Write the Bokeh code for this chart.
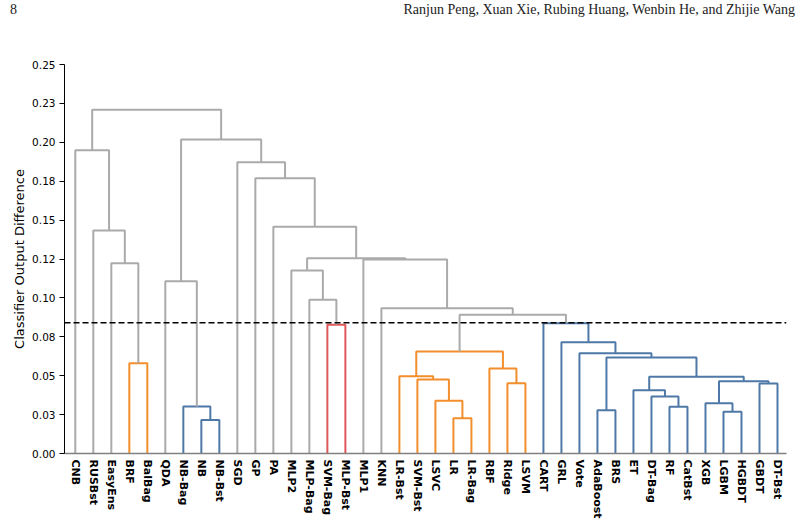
from bokeh.plotting import figure
from bokeh.models import FixedTicker, Span, Div
from bokeh.layouts import column
from bokeh.embed import file_html
from bokeh.resources import INLINE

# ---------------- data ----------------
leaf_labels = ["CNB", "RUSBst", "EasyEns", "BRF", "BalBag", "QDA", "NB-Bag", "NB", "NB-Bst",
               "SGD", "GP", "PA", "MLP2", "MLP-Bag", "SVM-Bag", "MLP-Bst", "MLP1", "KNN",
               "LR-Bst", "SVM-Bst", "LSVC", "LR", "LR-Bag", "RBF", "Ridge", "LSVM", "CART",
               "GRL", "Vote", "AdaBoost", "BRS", "ET", "DT-Bag", "RF", "CatBst", "XGB",
               "LGBM", "HGBDT", "GBDT", "DT-Bst"]

# linkage: child ids 0..39 are leaves (display order), 40+k is merge k
merge_left = [7, 6, 3, 5, 2, 1, 0,
              14, 13, 12,
              21, 20, 19, 18, 24, 23, 53,
              29, 33, 32, 31, 36, 35, 38, 62, 60, 57, 28, 27, 26,
              56, 17, 16, 49, 11, 10, 9, 43, 46]
merge_right = [8, 40, 4, 41, 42, 44, 45,
               15, 47, 48,
               22, 50, 51, 52, 25, 54, 55,
               30, 34, 58, 59, 37, 61, 39, 63, 64, 65, 66, 67, 68,
               69, 70, 71, 72, 73, 74, 75, 76, 77]
merge_height = [0.0216, 0.0302, 0.0580, 0.1107, 0.1223, 0.1433, 0.1949,
                0.0827, 0.0988, 0.1176,
                0.0227, 0.0339, 0.0476, 0.0497, 0.0452, 0.0546, 0.0656,
                0.0278, 0.0300, 0.0366, 0.0407, 0.0268, 0.0323, 0.0450, 0.0465, 0.0493,
                0.0617, 0.0645, 0.0715, 0.0837,
                0.0891, 0.0934, 0.1247, 0.1255, 0.1457, 0.1769, 0.1872, 0.2018, 0.2209]
color_threshold = 0.0840

y_ticks = [0.0, 0.025, 0.05, 0.075, 0.1, 0.125, 0.15, 0.175, 0.2, 0.225, 0.25]
y_tick_labels = ["0.00", "0.03", "0.05", "0.08", "0.10", "0.12", "0.15", "0.18", "0.20", "0.23", "0.25"]

cluster_palette = ["#f28e2b", "#4e79a7", "#e15759"]
above_color = "#aaaaaa"

header_left = "8"
header_right = "Ranjun Peng, Xuan Xie, Rubing Huang, Wenbin He, and Zhijie Wang"

# ---------------- dendrogram geometry ----------------
n = len(leaf_labels)
pos = {i: 5 + 10 * i for i in range(n)}
hgt = {i: 0.0 for i in range(n)}
for k, (a, b, h) in enumerate(zip(merge_left, merge_right, merge_height)):
    pos[n + k] = (pos[a] + pos[b]) / 2.0
    hgt[n + k] = h

link_color = {}
state = {"i": 0}


def assign(node, color):
    if node < n:
        return
    k = node - n
    if color is None and hgt[node] < color_threshold:
        color = cluster_palette[state["i"] % len(cluster_palette)]
        state["i"] += 1
    link_color[k] = color if color is not None else above_color
    assign(merge_left[k], color)
    assign(merge_right[k], color)


root = n + len(merge_height) - 1
assign(root, None)

xs, ys, cs = [], [], []
for k, (a, b, h) in enumerate(zip(merge_left, merge_right, merge_height)):
    xs.append([pos[a], pos[a], pos[b], pos[b]])
    ys.append([hgt[a], h, h, hgt[b]])
    cs.append(link_color[k])

# ---------------- header ----------------
HEADER_H = 24
header = Div(
    text=(f'<div style="display:flex;justify-content:space-between;width:785px;">'
          f'<span>{header_left}</span><span>{header_right}</span></div>'),
    width=802, height=HEADER_H, margin=(0, 0, 0, 0),
    styles={"font-family": "Liberation Serif", "font-size": "14px", "color": "#222222",
            "padding-left": "10px", "padding-top": "2px", "line-height": "16px"})

# ---------------- figure ----------------
p = figure(width=802, height=521 - HEADER_H, x_range=(-1, 400), y_range=(0, 0.25),
           output_backend="svg", toolbar_location=None,
           min_border_left=64, min_border_right=16, min_border_top=64 - HEADER_H,
           min_border_bottom=68)
p.outline_line_color = None
p.grid.visible = False
p.background_fill_color = "white"

p.multi_line(xs=xs, ys=ys, line_color=cs, line_width=2)

p.add_layout(Span(location=color_threshold, dimension="width", line_color="black",
                  line_dash="6 3", line_width=1.5))

# x axis
p.xaxis.ticker = FixedTicker(ticks=[pos[i] for i in range(n)])
p.xaxis.major_label_overrides = {pos[i]: leaf_labels[i] for i in range(n)}
p.xaxis.major_label_orientation = "vertical"
p.xaxis.major_label_text_font = "DejaVu Sans"
p.xaxis.major_label_text_font_style = "bold"
p.xaxis.major_label_text_font_size = "11px"
p.xaxis.major_label_text_color = "black"
p.xaxis.major_label_standoff = 6
p.xaxis.major_tick_out = 0
p.xaxis.major_tick_in = 0
p.xaxis.major_tick_line_color = None
p.xaxis.minor_tick_line_color = None
p.xaxis.axis_line_color = "#808080"
p.xaxis.axis_line_width = 1.5

# y axis
p.yaxis.ticker = FixedTicker(ticks=y_ticks)
p.yaxis.major_label_overrides = {t: s for t, s in zip(y_ticks, y_tick_labels)}
p.yaxis.major_label_text_font = "DejaVu Sans"
p.yaxis.major_label_text_font_size = "10.5px"
p.yaxis.major_label_text_color = "black"
p.yaxis.major_label_standoff = 4
p.yaxis.major_tick_out = 5
p.yaxis.major_tick_in = 0
p.yaxis.major_tick_line_color = "black"
p.yaxis.minor_tick_line_color = None
p.yaxis.axis_line_color = "black"
p.yaxis.axis_label = "Classifier Output Difference"
p.yaxis.axis_label_text_font = "DejaVu Sans"
p.yaxis.axis_label_text_font_style = "normal"
p.yaxis.axis_label_text_font_size = "13px"
p.yaxis.axis_label_text_color = "black"
p.yaxis.axis_label_standoff = 2

page = column(header, p, spacing=0)
open("out.html", "w").write(file_html(page, INLINE))
